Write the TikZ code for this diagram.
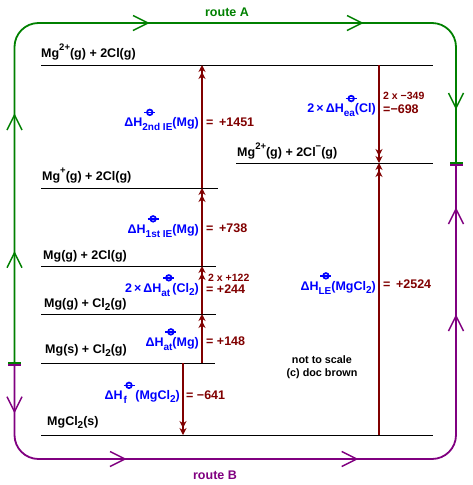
\documentclass[tikz,border=0pt]{standalone}
\usepackage{fontspec}
\setmainfont{Liberation Sans}
\usetikzlibrary{arrows.meta,decorations.markings}
\definecolor{dred}{RGB}{128,0,0}
\definecolor{rgreen}{RGB}{0,128,0}
\definecolor{rpurple}{RGB}{128,0,128}
\definecolor{lblue}{RGB}{0,0,255}
\newsavebox\plbox
\newcommand\sps[1]{\raisebox{7pt}{\fontsize{9.5}{10}\selectfont #1}}
\newcommand\sbs[1]{\raisebox{-3pt}{\fontsize{10}{10}\selectfont #1}}
\newcommand\stk[1]{\rlap{\raisebox{10.5pt}{\kern1pt\usebox\plbox}}\raisebox{-4pt}{\fontsize{10}{10}\selectfont #1}}
\newcommand\stkf[1]{\rlap{\raisebox{-4pt}{\kern1pt\fontsize{10}{10}\selectfont #1}}\raisebox{10.5pt}{\usebox\plbox}}
\tikzset{
  lvl/.style={line width=1pt},
  lab/.style={font=\fontsize{12.5}{14}\selectfont\bfseries, inner sep=0pt},
  lbl/.style={lab, anchor=base west},
  blu/.style={lab, text=lblue, anchor=base east},
  rval/.style={lab, text=dred, anchor=base west},
  smallred/.style={font=\fontsize{10.5}{12}\selectfont\bfseries, text=dred, inner sep=0pt, anchor=base west},
  note/.style={font=\fontsize{10.8}{13}\selectfont\bfseries, inner sep=0pt, anchor=base},
  rarr/.style={draw=dred, line width=2pt, -{Stealth[length=7pt,width=7pt]Stealth[length=7pt,width=7pt]}},
  route/.style={line width=1.8pt, rounded corners=24pt},
}
\newcommand\barb{\draw[line width=1.5pt, sharp corners] (-15pt,-7.5pt) -- (0pt,0pt) -- (-15pt,7.5pt);}
\begin{document}
\sbox\plbox{\begin{pgfpicture}\pgfsetlinewidth{1.7pt}\pgfsetstrokecolor{lblue}%
\pgfpathcircle{\pgfpoint{0pt}{0pt}}{2.8pt}\pgfusepath{stroke}%
\pgfpathmoveto{\pgfpoint{-5.5pt}{0pt}}\pgfpathlineto{\pgfpoint{5.5pt}{0pt}}\pgfusepath{stroke}%
\end{pgfpicture}}%
\begin{tikzpicture}[x=1pt,y=-1pt]
\useasboundingbox (0,0) rectangle (472,485);
% energy levels
\draw[lvl] (41,65) -- (433,65);
\draw[lvl] (236,163) -- (433,163);
\draw[lvl] (41,188) -- (218,188);
\draw[lvl] (41,266) -- (216,266);
\draw[lvl] (41,314) -- (216,314);
\draw[lvl] (41,363) -- (215,363);
\draw[lvl] (41,435) -- (433,435);
% level labels
\node[lbl] (s1) at (41,57.5) {Mg\sps{2+}(g) + 2Cl(g)};
\node[lbl] (s2) at (237,156.7) {Mg\sps{2+}(g) + 2Cl\sps{\char"2212}(g)};
\node[lbl] (s3) at (42,180) {Mg\sps{+}(g) + 2Cl(g)};
\node[lbl] (s4) at (43,259.3) {Mg(g) + 2Cl(g)};
\node[lbl] (s5) at (44,307.7) {Mg(g) + Cl\sbs{2}(g)};
\node[lbl] (s6) at (45,353) {Mg(s) + Cl\sbs{2}(g)};
\node[lbl] (s7) at (47,425) {MgCl\sbs{2}(s)};
% coordinates for arrows
\coordinate (a0) at (202,363);
\coordinate (a1) at (202,314);
\coordinate (a2) at (202,266);
\coordinate (a3) at (202,188);
\coordinate (a4) at (202,65);
\coordinate (f0) at (183,363);
\coordinate (f1) at (183,435);
\coordinate (e0) at (379,65);
\coordinate (e1) at (379,163);
\coordinate (l0) at (379,435);
\coordinate (l1) at (379,163);
\draw[rarr] (a0) -- (a1);
\draw[rarr] (a1) -- (a2);
\draw[rarr] (a2) -- (a3);
\draw[rarr] (a3) -- (a4);
\draw[rarr] (f0) -- (f1);
\draw[rarr] (e0) -- (e1);
\draw[rarr] (l0) -- (l1);
% enthalpy labels
\node[blu] (b1) at (199,126.5) {ΔH\stk{2nd IE}(Mg)};
\node[rval] (r1) at (206,126) {=\ \,+1451};
\node[blu] (b2) at (199,233) {ΔH\stk{1st IE}(Mg)};
\node[rval] (r2) at (206,232) {=\ \,+738};
\node[blu] (b3) at (199,292) {2\,×\,ΔH\stk{at}\,(Cl\sbs{2})};
\node[rval] (r3) at (206,293) {=\ +244};
\node[smallred] (q3) at (208,281) {2 x +122};
\node[blu] (b4) at (199,346) {ΔH\stk{at}(Mg)};
\node[rval] (r4) at (206,345) {=\ +148};
\node[blu] (b5) at (180,399.5) {ΔH\stkf{f}(MgCl\sbs{2})};
\node[rval] (r5) at (186,399.5) {=\ \char"2212 641};
\node[blu] (b6) at (376,112.7) {2\,×\,ΔH\stk{ea}(Cl)};
\node[rval] (r6) at (383,113) {=\char"2212 698};
\node[smallred] (q6) at (383,99) {2 x \char"2212 349};
\node[blu] (b7) at (376,290) {ΔH\stk{LE}(MgCl\sbs{2})};
\node[rval] (r7) at (383,288.5) {=\ \,+2524};
\node[note] (n1) at (322,363.3) {not to scale};
\node[note] (n2) at (322,376) {(c) doc brown};
% routes
\coordinate (jA) at (14.5,362.5);
\coordinate (jAp) at (14.5,364.5);
\coordinate (jB) at (456,162.5);
\coordinate (jBp) at (456,164.5);
\coordinate (tA) at (235,23);
\coordinate (tB) at (235,459);
\draw[route, rgreen, postaction={decorate, decoration={markings,
   mark=at position 109.8pt with {\barb},
   mark=at position 247.5pt with {\barb},
   mark=at position 462.7pt with {\barb},
   mark=at position 676.7pt with {\barb},
   mark=at position 845.4pt with {\barb}}}]
   (jA) |- (tA) -| (jB);
\draw[route, rpurple, postaction={decorate, decoration={markings,
   mark=at position 47.2pt with {\barb},
   mark=at position 194.7pt with {\barb},
   mark=at position 426.4pt with {\barb},
   mark=at position 658.4pt with {\barb},
   mark=at position 765.4pt with {\barb}}}]
   (jAp) |- (tB) -| (jBp);
% junction ticks
\draw[rgreen, line width=2pt] (8,362.5) -- (20.5,362.5);
\draw[rpurple, line width=2pt] (8,364.6) -- (20.5,364.6);
\draw[rgreen, line width=2pt] (450,162.5) -- (463,162.5);
\draw[rpurple, line width=2pt] (450,164.6) -- (463,164.6);
\node[lab, text=rgreen, anchor=base] (ra) at (227,16.5) {route A};
\node[lab, text=rpurple, anchor=base] (rb) at (215,479) {route B};
\end{tikzpicture}
\end{document}
